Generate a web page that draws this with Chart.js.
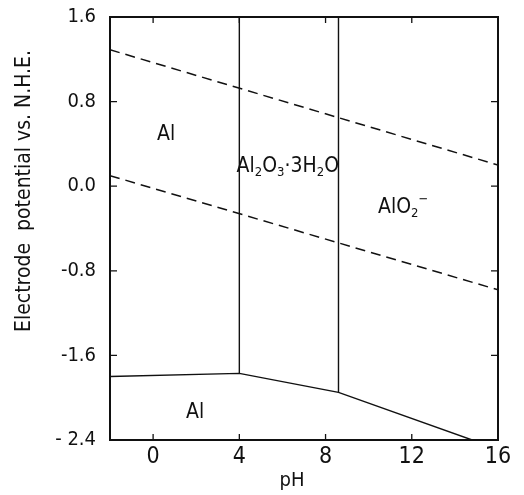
<!DOCTYPE html>
<html>
<head>
<meta charset="utf-8">
<script src="https://cdn.jsdelivr.net/npm/chart.js@4/dist/chart.umd.min.js"></script>
<style>
  html, body { margin: 0; padding: 0; background: #fff; }
  #wrap { width: 524px; height: 495px; }
</style>
</head>
<body>
<div id="wrap"><canvas id="c" width="524" height="495"></canvas></div>
<script>
const FONT = '"DejaVu Sans Condensed", "DejaVu Sans", sans-serif';

// axis ranges and tick labels
const xTicks = [0, 4, 8, 12, 16];
const yTicks = [1.6, 0.8, 0.0, -0.8, -1.6, -2.4];
const yTickLabels = ["1.6", "0.8", "0.0", "-0.8", "-1.6", "- 2.4"];
const xTitle = "pH";
const yTitle = "Electrode  potential vs. N.H.E.";

// O2 / H2O line (dashed, upper)
const oxygenPH = [-2, 16];
const oxygenE = [1.29, 0.2];
// H2 / H+ line (dashed, lower)
const hydrogenPH = [-2, 16];
const hydrogenE = [0.1, -0.98];

// region boundaries (solid)
const lowerPH = [-2, 4, 8.6, 14.8];
const lowerE = [-1.8, -1.77, -1.95, -2.4];
const vert1PH = [4, 4];
const vert1E = [1.6, -1.77];
const vert2PH = [8.6, 8.6];
const vert2E = [1.6, -1.95];

// region labels: _ = subscript, ^ = superscript
const labelText = ["Al", "Al_2O_3·3H_2O", "AlO_2^-", "Al"];
const labelPH = [0.6, 6.25, 11.6, 1.95];
const labelE = [0.49, 0.19, -0.2, -2.14];

function pts(xs, ys) {
  return xs.map((x, i) => ({ x, y: ys[i] }));
}

function line(xs, ys, dashed) {
  return {
    data: pts(xs, ys),
    showLine: true,
    borderColor: "#111",
    borderWidth: dashed ? 1.5 : 1.4,
    borderDash: dashed ? [10, 6] : [],
    pointRadius: 0,
    tension: 0,
  };
}

function drawChem(ctx, text, cx, cy, size) {
  const runs = [];
  let i = 0;
  while (i < text.length) {
    const ch = text[i];
    if ((ch === "_" || ch === "^") && i + 1 < text.length) {
      runs.push({ t: text[i + 1] === "-" ? "−" : text[i + 1], k: ch });
      i += 2;
    } else {
      const last = runs[runs.length - 1];
      if (last && last.k === "n") last.t += ch;
      else runs.push({ t: ch, k: "n" });
      i += 1;
    }
  }
  const big = `${size}px ${FONT}`;
  const small = `${Math.round(size * 0.62)}px ${FONT}`;
  let total = 0;
  for (const r of runs) {
    ctx.font = r.k === "n" ? big : small;
    r.w = ctx.measureText(r.t).width;
    total += r.w;
  }
  let x = cx - total / 2;
  ctx.textAlign = "left";
  ctx.textBaseline = "middle";
  for (const r of runs) {
    ctx.font = r.k === "n" ? big : small;
    const dy = r.k === "_" ? size * 0.32 : r.k === "^" ? -size * 0.35 : 0;
    ctx.fillText(r.t, x, cy + dy);
    x += r.w;
  }
}

const framePlugin = {
  id: "frame",
  afterDraw(chart) {
    const { ctx, chartArea: a, scales } = chart;
    ctx.save();
    ctx.strokeStyle = "#111";
    ctx.lineWidth = 2;
    ctx.strokeRect(a.left, a.top, a.right - a.left, a.bottom - a.top);
    ctx.lineWidth = 1.3;
    ctx.beginPath();
    for (const v of xTicks) {
      const px = scales.x.getPixelForValue(v);
      if (px >= a.right - 1) continue;
      ctx.moveTo(px, a.bottom); ctx.lineTo(px, a.bottom - 6);
      ctx.moveTo(px, a.top); ctx.lineTo(px, a.top + 6);
    }
    for (const v of yTicks) {
      const py = scales.y.getPixelForValue(v);
      if (py <= a.top + 1 || py >= a.bottom - 1) continue;
      ctx.moveTo(a.left, py); ctx.lineTo(a.left + 7, py);
      ctx.moveTo(a.right, py); ctx.lineTo(a.right - 7, py);
    }
    ctx.stroke();
    ctx.fillStyle = "#111";
    labelText.forEach((t, k) => {
      drawChem(ctx, t, scales.x.getPixelForValue(labelPH[k]),
        scales.y.getPixelForValue(labelE[k]), 21);
    });
    // axis titles
    ctx.textAlign = "center";
    ctx.textBaseline = "middle";
    ctx.font = `20px ${FONT}`;
    ctx.fillText(xTitle, 292, 481);
    ctx.translate(25, 191);
    ctx.rotate(-Math.PI / 2);
    ctx.font = `21px ${FONT}`;
    ctx.fillText(yTitle, 0, 0);
    ctx.restore();
  },
};

new Chart(document.getElementById("c"), {
  type: "scatter",
  data: {
    datasets: [
      line(oxygenPH, oxygenE, true),
      line(hydrogenPH, hydrogenE, true),
      line(lowerPH, lowerE, false),
      line(vert1PH, vert1E, false),
      line(vert2PH, vert2E, false),
    ],
  },
  options: {
    responsive: false,
    animation: false,
    layout: { padding: { left: 0, top: 17, right: 26, bottom: 0 } },
    plugins: { legend: { display: false }, tooltip: { enabled: false } },
    scales: {
      x: {
        type: "linear",
        min: -2,
        max: 16,
        afterBuildTicks: (s) => { s.ticks = xTicks.map((v) => ({ value: v })); },
        afterFit: (s) => { s.height = 55; s.paddingLeft = 0; s.paddingRight = 0; },
        grid: { display: false, drawTicks: false },
        border: { display: false },
        ticks: { color: "#111", padding: 3, font: { family: FONT, size: 23 } },
      },
      y: {
        type: "linear",
        min: -2.4,
        max: 1.6,
        afterBuildTicks: (s) => { s.ticks = yTicks.map((v) => ({ value: v })); },
        afterFit: (s) => { s.width = 110; s.paddingTop = 0; s.paddingBottom = 0; },
        grid: { display: false, drawTicks: false },
        border: { display: false },
        ticks: {
          color: "#111",
          padding: 14,
          font: { family: FONT, size: 20 },
          callback: (v) => {
            const k = yTicks.findIndex((t) => Math.abs(t - v) < 1e-6);
            return k >= 0 ? yTickLabels[k] : "";
          },
        },
      },
    },
  },
  plugins: [framePlugin],
});
</script>
</body>
</html>
